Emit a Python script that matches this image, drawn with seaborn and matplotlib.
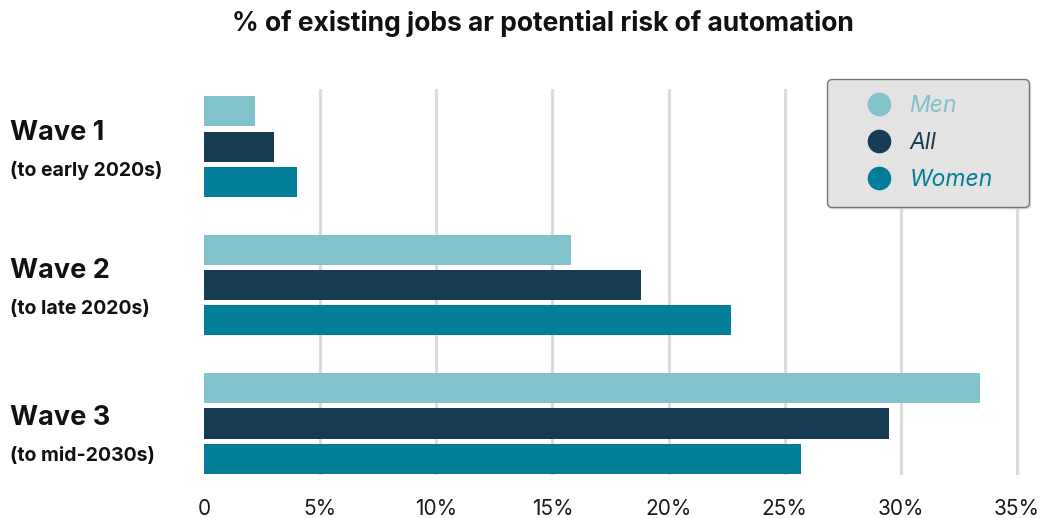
import matplotlib
matplotlib.use("Agg")
import matplotlib.pyplot as plt
import seaborn as sns
import pandas as pd
from matplotlib.lines import Line2D
from matplotlib.transforms import blended_transform_factory

# Share of existing jobs at potential risk of automation, by wave and group
waves = ["Wave 1", "Wave 2", "Wave 3"]
wave_periods = ["(to early 2020s)", "(to late 2020s)", "(to mid-2030s)"]
groups = ["Men", "All", "Women"]
men = [2.2, 15.8, 33.4]
all_workers = [3.0, 18.8, 29.5]
women = [4.0, 22.7, 25.7]
tick_values = [0, 5, 10, 15, 20, 25, 30, 35]
tick_labels = ["0", "5%", "10%", "15%", "20%", "25%", "30%", "35%"]

palette = {"Men": "#82c2cb", "All": "#163c54", "Women": "#037e98"}

df = pd.DataFrame({
    "wave": waves * 3,
    "group": ["Men"] * 3 + ["All"] * 3 + ["Women"] * 3,
    "value": men + all_workers + women,
})

sns.set_theme(style="white")
plt.rcParams["font.family"] = ["Inter", "DejaVu Sans"]

fig = plt.figure(figsize=(10.47, 5.18), dpi=100)
ax = fig.add_axes([0.1948, 0.083, 0.978 - 0.1948, 0.828 - 0.083])

sns.barplot(data=df, y="wave", x="value", hue="group", order=waves,
            hue_order=groups, palette=palette, orient="h",
            width=0.765, gap=0.15, saturation=1, linewidth=0,
            ax=ax, legend=False, zorder=2)

ax.set_xlim(0, 35.3)
ax.set_ylim(2.372, -0.415)
ax.grid(axis="x", color="#dcdcdc", linewidth=2.3, zorder=0)
ax.set_axisbelow(True)
ax.set_xticks(tick_values)
ax.set_xticklabels(tick_labels)
for gl, v in zip(ax.get_xgridlines(), tick_values):
    if v == 0:
        gl.set_visible(False)
ax.tick_params(axis="x", length=0, pad=17, labelsize=15, labelcolor="#1a1a1a")
ax.set_yticks([])
ax.set_xlabel("")
ax.set_ylabel("")
for s in ax.spines.values():
    s.set_visible(False)

# Wave labels on the left (the last one sits a little lower)
label_nudge = [0.01, 0.01, 0.07]
trans = blended_transform_factory(fig.transFigure, ax.transData)
for i, (w, p) in enumerate(zip(waves, wave_periods)):
    y0 = i + label_nudge[i]
    ax.text(0.010, y0 - 0.11, w, transform=trans, fontsize=19.5,
            fontweight="bold", color="#111111", va="center", ha="left")
    ax.text(0.010, y0 + 0.165, p, transform=trans, fontsize=14,
            fontweight="bold", color="#111111", va="center", ha="left")

fig.text(0.519, 0.955, "% of existing jobs ar potential risk of automation",
         ha="center", va="center", fontsize=19, fontweight="bold",
         color="#111111")

handles = [Line2D([0], [0], marker="o", linestyle="", markersize=16,
                  markerfacecolor=palette[g], markeredgecolor=palette[g])
           for g in groups]
leg = fig.legend(handles, groups, loc="upper left",
                 bbox_to_anchor=(0.7899, 0.846, 0.1929, 0.001),
                 mode="expand", frameon=True, fancybox=True,
                 shadow={"color": "#cfcfcf", "alpha": 0.6, "ox": 1, "oy": -1.5},
                 prop={"style": "italic", "size": 16.5},
                 handletextpad=-0.24, labelspacing=0.66, borderpad=0.68,
                 borderaxespad=0, handlelength=3.15)
frame = leg.get_frame()
frame.set_facecolor("#e3e3e3")
frame.set_edgecolor("#777777")
frame.set_linewidth(1.0)
frame.set_alpha(1)
for txt, g in zip(leg.get_texts(), groups):
    txt.set_color(palette[g])

fig.savefig("out.png", dpi=100, facecolor="white")
